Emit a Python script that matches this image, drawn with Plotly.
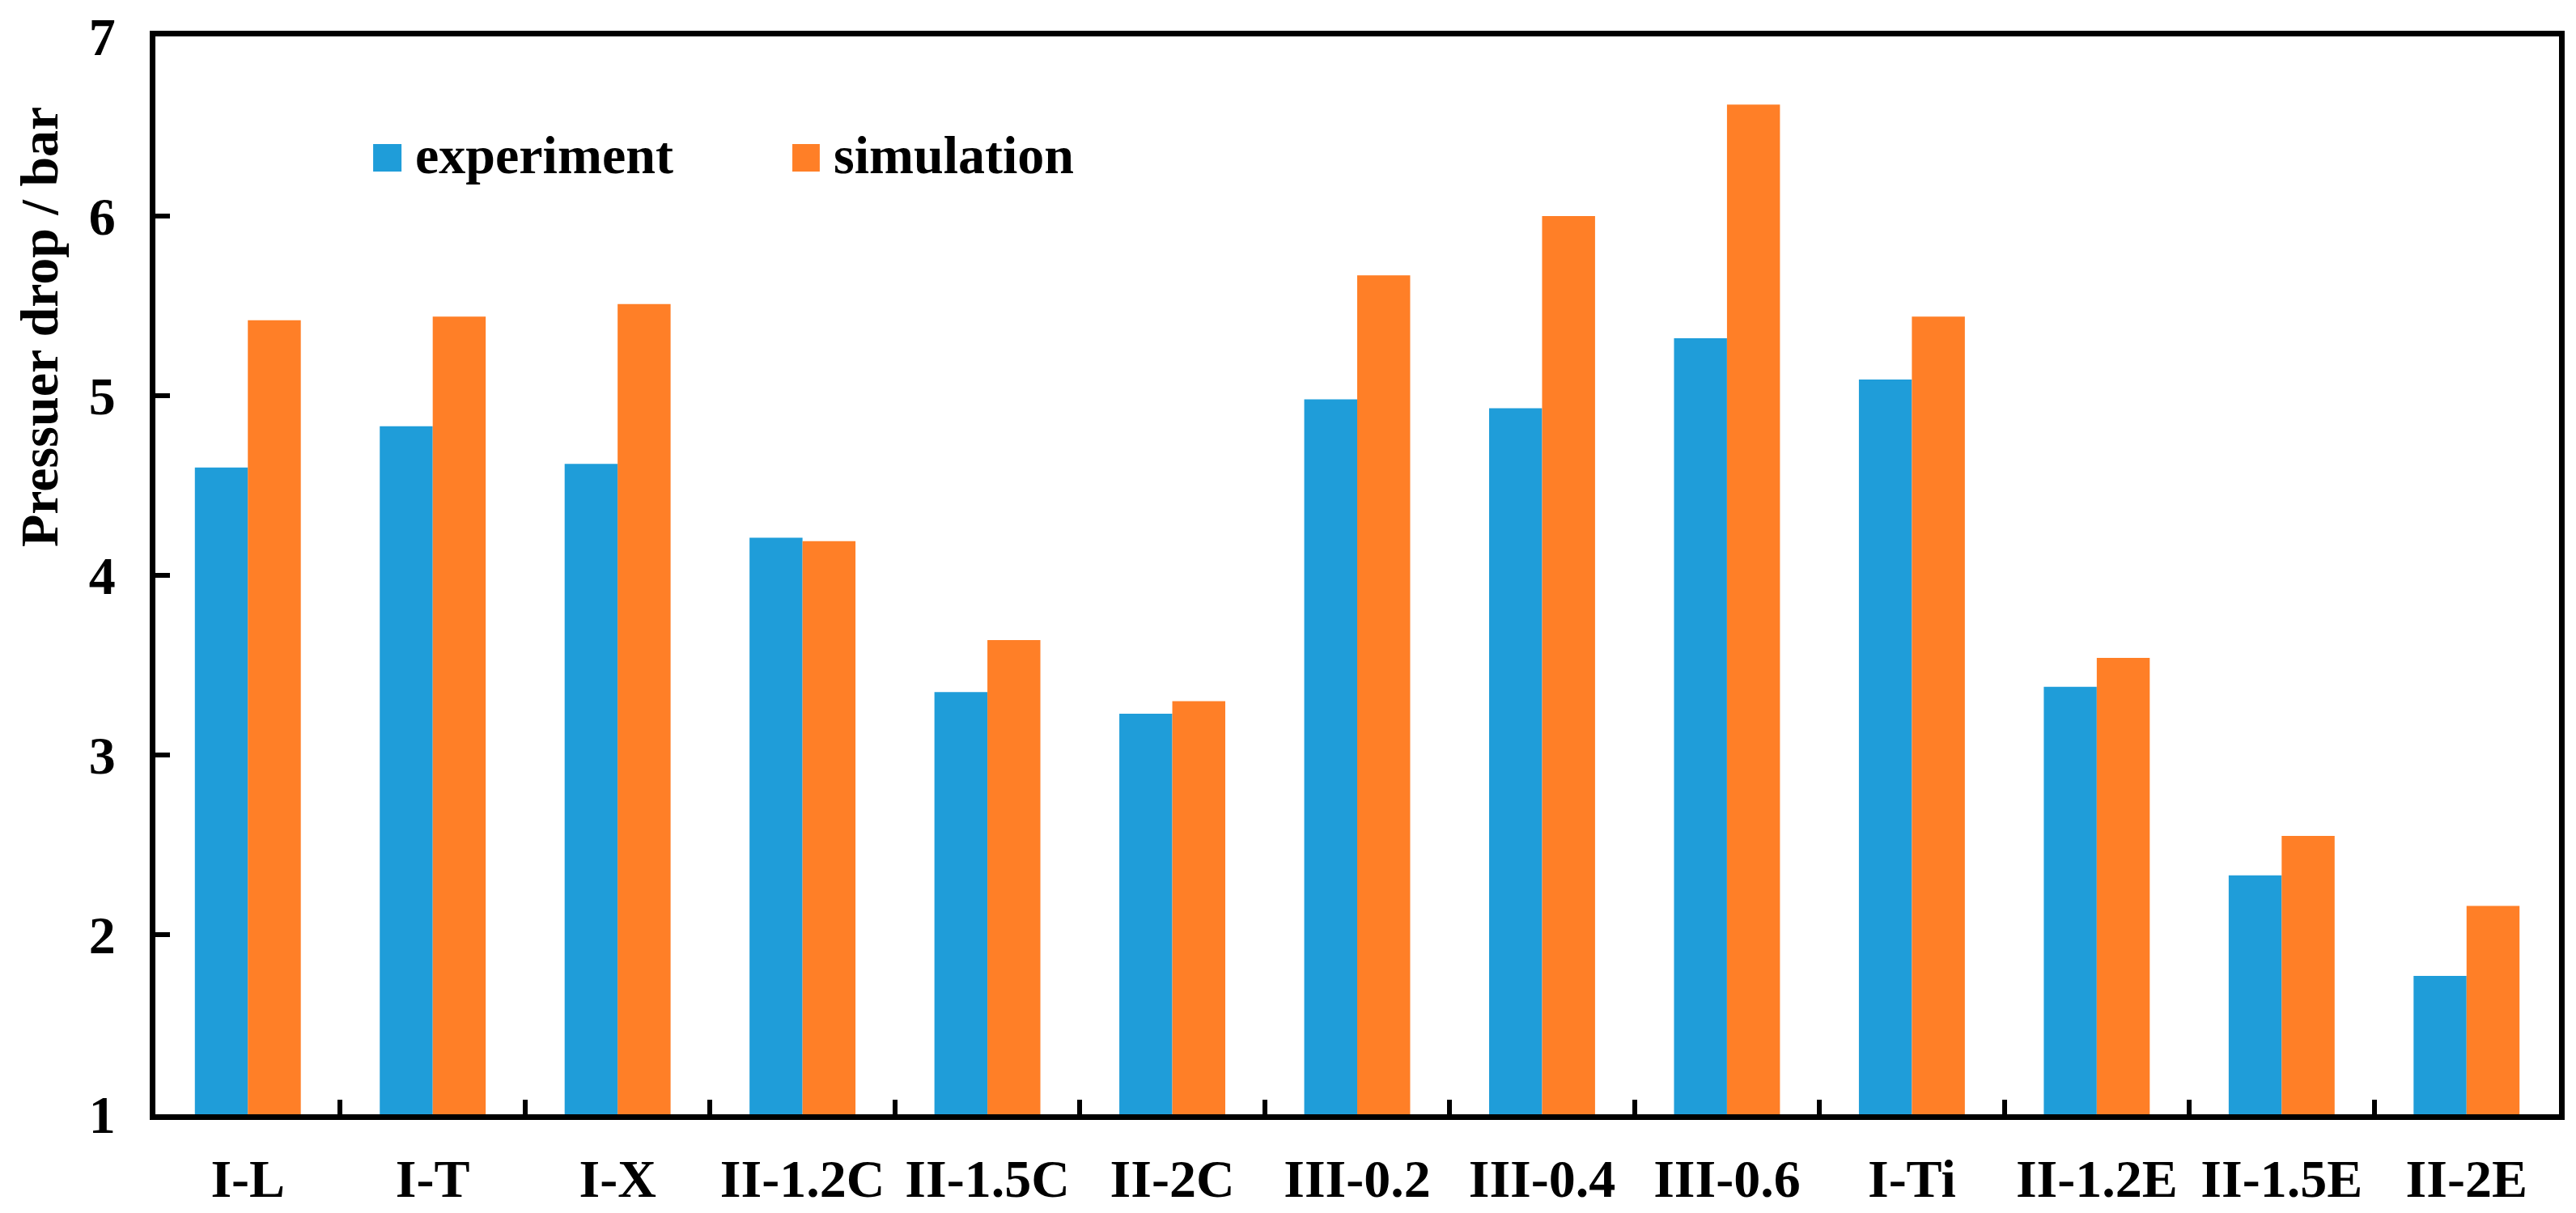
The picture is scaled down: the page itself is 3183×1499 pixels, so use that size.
import plotly.graph_objects as go

categories = ["I-L", "I-T", "I-X", "II-1.2C", "II-1.5C", "II-2C", "III-0.2",
              "III-0.4", "III-0.6", "I-Ti", "II-1.2E", "II-1.5E", "II-2E"]
experiment = [4.60, 4.83, 4.62, 4.21, 3.35, 3.23, 4.98, 4.93, 5.32, 5.09, 3.38, 2.33, 1.77]
simulation = [5.42, 5.44, 5.51, 4.19, 3.64, 3.30, 5.67, 6.00, 6.62, 5.44, 3.54, 2.55, 2.16]
y_ticks = [1, 2, 3, 4, 5, 6, 7]

BLUE = "#1F9DD9"
ORANGE = "#FF7F27"
FONT = dict(family="Liberation Serif", size=66, color="black", weight="bold")

fig = go.Figure()
fig.add_trace(go.Bar(name="experiment", x=categories, y=experiment,
                     marker=dict(color=BLUE, line=dict(width=0)), showlegend=False))
fig.add_trace(go.Bar(name="simulation", x=categories, y=simulation,
                     marker=dict(color=ORANGE, line=dict(width=0)), showlegend=False))

axis_common = dict(showline=True, linecolor="black", linewidth=7, mirror=True,
                   ticks="inside", tickcolor="black", tickwidth=6, ticklen=18,
                   showgrid=False, zeroline=False, tickfont=FONT, automargin=False)

fig.update_layout(
    width=3183, height=1499,
    margin=dict(l=192, r=21, t=45, b=122),
    paper_bgcolor="white", plot_bgcolor="white",
    barmode="group", bargap=0.427, bargroupgap=0,
    xaxis=dict(**axis_common, type="category", tickson="boundaries",
               ticklabelstandoff=16),
    yaxis=dict(**axis_common, range=[1, 7], tickvals=y_ticks,
               ticktext=[str(v) for v in y_ticks], ticklabelstandoff=29),
    showlegend=False,
)

# y-axis title
fig.add_annotation(text="Pressuer drop / bar", xref="paper", yref="paper",
                   x=-0.0481, y=0.7305, xanchor="center", yanchor="middle",
                   textangle=-90, showarrow=False, font=FONT)

# legend (squares + labels)
legend_items = [("experiment", BLUE, 0.0906, 0.1024, 0.1074),
                ("simulation", ORANGE, 0.2650, 0.2764, 0.2815)]
for name, col, x0, x1, xt in legend_items:
    fig.add_shape(type="rect", xref="paper", yref="paper", x0=x0, x1=x1,
                  y0=0.8746, y1=0.9001, fillcolor=col, line=dict(width=0))
    fig.add_annotation(text=name, xref="paper", yref="paper", x=xt, y=0.890,
                       xanchor="left", yanchor="middle", showarrow=False, font=FONT)

fig.write_html("out.html", config={"displayModeBar": False},
               post_script="document.body.style.margin='0';document.body.style.padding='0';")
